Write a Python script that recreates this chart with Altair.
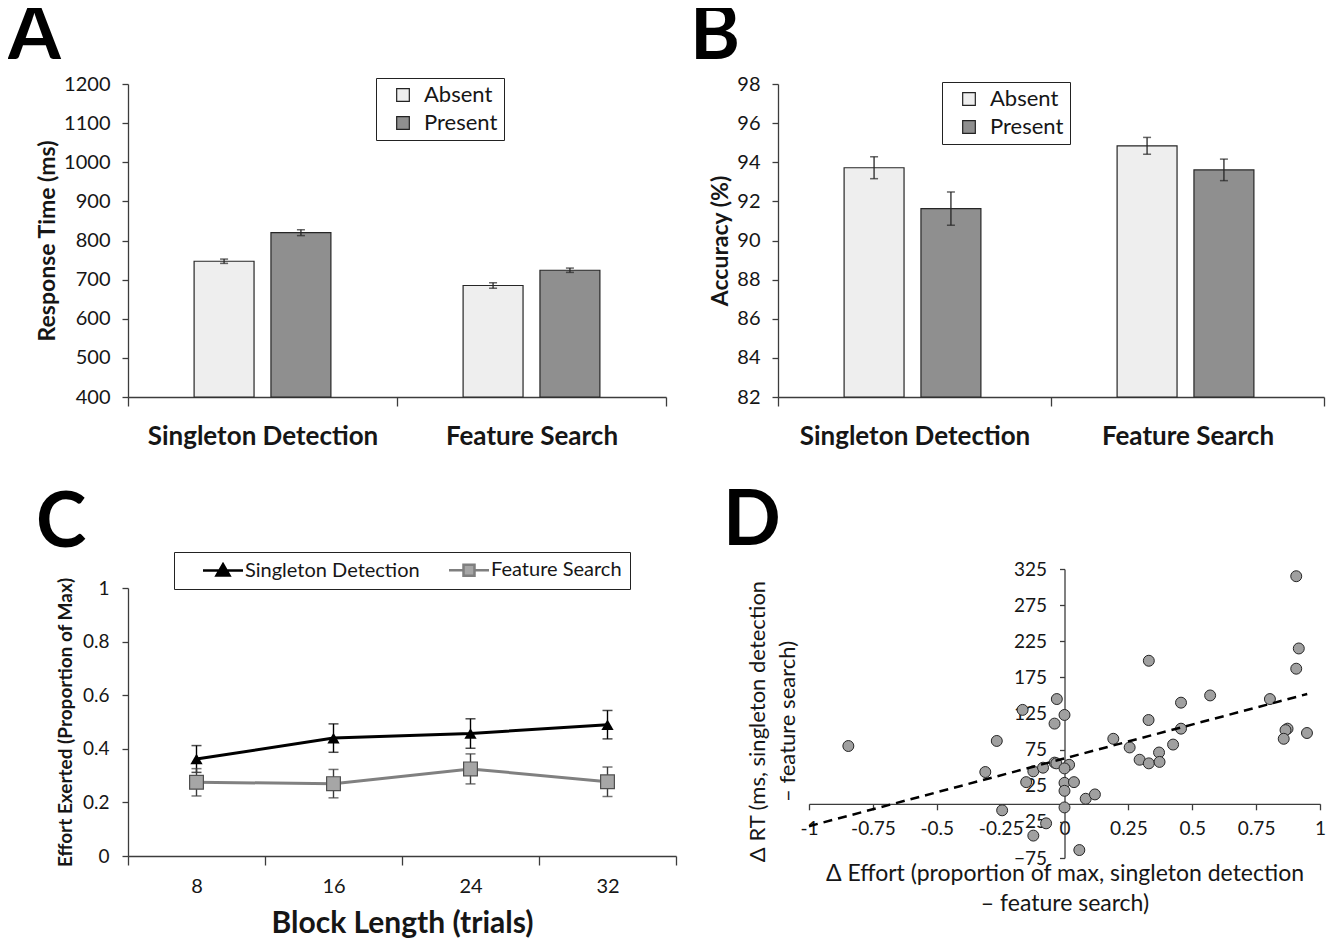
import altair as alt
import pandas as pd

FONT = "Lato"
INK = "#161616"
AX = "#3c3c3c"

# ---------------- Panel A / B data ----------------
tasks = ["Singleton Detection", "Feature Search"]
targets = ["Absent", "Present"]
task_col = ["Singleton Detection", "Singleton Detection", "Feature Search", "Feature Search"]
target_col = ["Absent", "Present", "Absent", "Present"]
rt_mean = [747, 820, 685, 724]
rt_se = [5.5, 7.5, 7.0, 5.5]
acc_mean = [93.72, 91.63, 94.84, 93.61]
acc_se = [0.56, 0.85, 0.43, 0.55]
rt_ticks = [400, 500, 600, 700, 800, 900, 1000, 1100, 1200]
acc_ticks = [82, 84, 86, 88, 90, 92, 94, 96, 98]

# ---------------- Panel C data ----------------
series_names = ["Singleton Detection", "Feature Search"]
block_lengths = ["8", "16", "24", "32"]
sd_effort = [0.362, 0.440, 0.457, 0.490]
sd_se = [0.050, 0.053, 0.055, 0.053]
fs_effort = [0.275, 0.270, 0.325, 0.277]
fs_se = [0.051, 0.053, 0.056, 0.055]
effort_ticks = [0, 0.2, 0.4, 0.6, 0.8, 1]

# ---------------- Panel D data ----------------
d_effort = [-0.846, -0.265, -0.310, -0.244, -0.164, -0.150, -0.122, -0.122, -0.072, -0.084,
            -0.039, -0.032, -0.030, -0.039, 0.000, 0.018, 0.000, 0.000, 0.000, 0.037,
            0.000, 0.058, 0.083, 0.119, 0.191, 0.255, 0.294, 0.330, 0.329, 0.330,
            0.370, 0.372, 0.425, 0.456, 0.456, 0.570, 0.804, 0.907, 0.917, 0.907,
            0.873, 0.865, 0.858, 0.949]
d_rt = [80, 87, 44, -9, 130, 30, 45, -44, -27, 50,
        57, 56, 145, 111, 123, 54, 49, 29, 18, 30,
        -5, -64, 7, 13, 90, 78, 61, 198, 116, 56,
        71, 58, 82, 140, 104, 150, 145, 315, 215, 187,
        104, 102, 90, 98]
trend_x = [-1.0, 0.95]
trend_y = [-31, 152]
d_x_ticks = [-1, -0.75, -0.5, -0.25, 0, 0.25, 0.5, 0.75, 1]
d_y_ticks = [-75, -25, 25, 75, 125, 175, 225, 275, 325]


def letter_title(letter, dx, offset):
    return alt.Title(letter, anchor="start", frame="group", dx=dx, offset=offset,
                     fontSize=76, font=FONT, fontWeight="bold", color="black")


def bar_panel(means, ses, ticks, ytitle, letter, width, letter_dx, leg_x, leg_y, title_off):
    df = pd.DataFrame({"task": task_col, "target": target_col, "mean": means, "se": ses})
    base = alt.Chart(df).transform_calculate(lo="datum.mean - datum.se", hi="datum.mean + datum.se")
    x = alt.X("task:N", sort=tasks, title=None,
              scale=alt.Scale(paddingInner=0, paddingOuter=0),
              axis=alt.Axis(labelAngle=0, labelFontSize=26, labelFontWeight="bold", labelPadding=17,
                            labelLimit=0, tickBand="extent", tickSize=9))
    xo = alt.XOffset("target:N", sort=targets, scale=alt.Scale(paddingInner=0.22, paddingOuter=0.86))
    yscale = alt.Scale(domain=[ticks[0], ticks[-1]], nice=False, zero=False)
    yaxis = alt.Axis(values=ticks, tickCount=len(ticks) + 2, format="d", labelOverlap=False,
                     labelFontSize=20, labelPadding=12, tickSize=6, titleFontSize=23,
                     titleFontWeight="bold", titlePadding=4)
    legend = alt.Legend(title=None, orient="none", legendX=leg_x, legendY=leg_y,
                        symbolType="square", symbolSize=160, symbolStrokeColor="#222",
                        symbolStrokeWidth=1.2, symbolOffset=10, labelOffset=10,
                        labelFontSize=22, labelFont=FONT, labelColor=INK, rowPadding=6,
                        padding=6, strokeColor="#222", fillColor="white", labelLimit=0)
    bars = base.mark_bar(stroke="#262626", strokeWidth=1.2).encode(
        x=x, xOffset=xo,
        y=alt.Y("mean:Q", scale=yscale, axis=yaxis, title=ytitle),
        y2=alt.datum(ticks[0]),
        fill=alt.Fill("target:N", sort=targets,
                      scale=alt.Scale(domain=targets, range=["#EEEEEE", "#8F8F8F"]),
                      legend=legend),
    )
    err = base.mark_rule(color="#262626", strokeWidth=1.3).encode(
        x=x, xOffset=xo, y=alt.Y("lo:Q", title=ytitle), y2="hi:Q")
    cap_lo = base.mark_tick(color="#262626", size=8, thickness=1.5).encode(
        x=x, xOffset=xo, y=alt.Y("lo:Q", title=ytitle))
    cap_hi = base.mark_tick(color="#262626", size=8, thickness=1.5).encode(
        x=x, xOffset=xo, y=alt.Y("hi:Q", title=ytitle))
    return alt.layer(bars, err, cap_lo, cap_hi).properties(
        width=width, height=313, title=letter_title(letter, letter_dx, title_off))


panel_a = bar_panel(rt_mean, rt_se, rt_ticks, "Response Time (ms)", "A", 538, -120, 248, -6, -1)
panel_b = bar_panel(acc_mean, acc_se, acc_ticks, "Accuracy (%)", "B", 546, -88, 164, -2, -1)

# ---------------- Panel C ----------------
cdf = pd.DataFrame({
    "block": block_lengths * 2,
    "series": [series_names[0]] * 4 + [series_names[1]] * 4,
    "effort": sd_effort + fs_effort,
    "se": sd_se + fs_se,
})
cbase = alt.Chart(cdf).transform_calculate(lo="datum.effort - datum.se", hi="datum.effort + datum.se")
cx = alt.X("block:O", sort=block_lengths, title="Block Length (trials)",
           scale=alt.Scale(paddingInner=0, paddingOuter=0),
           axis=alt.Axis(labelAngle=0, tickBand="extent", tickSize=9, labelFontSize=20,
                         labelPadding=11, titleFontSize=30, titleFontWeight="bold", titlePadding=12))
ctitle = "Effort Exerted (Proportion of Max)"
cy = alt.Y("effort:Q", title=ctitle, scale=alt.Scale(domain=[0, 1], nice=False),
           axis=alt.Axis(values=effort_ticks, tickCount=10, labelExpr="'' + datum.value",
                         labelOverlap=False, labelFontSize=19, labelPadding=13, tickSize=6,
                         titleFontSize=19, titleFontWeight="bold", titlePadding=7))

layers_c = []
for name, lcol in [(series_names[0], "#000000"), (series_names[1], "#808080")]:
    sub = cbase.transform_filter(alt.datum.series == name)
    layers_c.append(sub.mark_line(color=lcol, strokeWidth=3).encode(x=cx, y=cy))
for name, ecol in [(series_names[0], "#000000"), (series_names[1], "#3a3a3a")]:
    sub = cbase.transform_filter(alt.datum.series == name)
    layers_c.append(sub.mark_rule(color=ecol, strokeWidth=1.4).encode(
        x=cx, y=alt.Y("lo:Q", title=ctitle), y2="hi:Q"))
    layers_c.append(sub.mark_tick(color=ecol, size=10, thickness=1.5).encode(
        x=cx, y=alt.Y("lo:Q", title=ctitle)))
    layers_c.append(sub.mark_tick(color=ecol, size=10, thickness=1.5).encode(
        x=cx, y=alt.Y("hi:Q", title=ctitle)))
layers_c.append(cbase.transform_filter(alt.datum.series == series_names[0]).mark_point(
    shape="triangle-up", filled=True, color="#000000", size=150, opacity=1).encode(x=cx, y=cy))
layers_c.append(cbase.transform_filter(alt.datum.series == series_names[1]).mark_point(
    shape="square", filled=True, fill="#A6A6A6", stroke="#505050", strokeWidth=1.2,
    size=190, opacity=1).encode(x=cx, y=cy))

PATH_SD = "M-4,0H4M0,-1.25L1.3,1H-1.3Z"
PATH_FS = "M-4,0H-1.1M1.1,0H4M-1.1,-1.1H1.1V1.1H-1.1Z"
leg_c = alt.Legend(title=None, orient="none", direction="horizontal", legendX=46, legendY=-36,
                   symbolSize=100, symbolStrokeWidth=2.5, symbolOffset=31, labelOffset=12,
                   labelFontSize=20, labelFont=FONT, labelColor=INK, columnPadding=8,
                   labelLimit=0, padding=8, strokeColor="#222", fillColor="white",
                   labelExpr="datum.label == 'Feature Search' ? datum.label + '\u2003\u2002' : datum.label")
legend_layer = alt.Chart(pd.DataFrame({"series": series_names})).transform_filter("false").mark_point(
    filled=True, opacity=1).encode(
    shape=alt.Shape("series:N", scale=alt.Scale(domain=series_names, range=[PATH_SD, PATH_FS]), legend=leg_c),
    fill=alt.Fill("series:N", scale=alt.Scale(domain=series_names, range=["#000000", "#A6A6A6"]), legend=leg_c),
    stroke=alt.Stroke("series:N", scale=alt.Scale(domain=series_names, range=["#000000", "#7F7F7F"]), legend=leg_c),
)
layers_c.append(legend_layer)
panel_c = alt.layer(*layers_c).properties(width=548, height=268, title=letter_title("C", -92, -11))

# ---------------- Panel D ----------------
ddf = pd.DataFrame({"effort": d_effort, "rt": d_rt})
tdf = pd.DataFrame({"effort": trend_x, "rt": trend_y})
dxs = alt.Scale(domain=[-1, 1], range=[31, 542], nice=False, zero=False)
dys = alt.Scale(domain=[-75, 325], nice=False, zero=False)
dxaxis = alt.Axis(values=d_x_ticks, tickCount=20, labelExpr="'' + datum.value", labelOverlap=False,
                  offset=-54.2, tickSize=6, labelFontSize=19, labelPadding=10, labelFlush=False,
                  titleX=286.5, titleY=59, titleBaseline="top", titleAlign="center",
                  titleFontSize=23, titleFontWeight="normal", titleLineHeight=30)
dyaxis = alt.Axis(values=d_y_ticks, tickCount=20, labelOverlap=False, offset=-286.5, tickSize=5,
                  labelFontSize=19, labelPadding=13, titleX=-317, titleY=152, titleAngle=-90,
                  titleBaseline="top", titleAlign="center", titleFontSize=22,
                  titleFontWeight="normal", titleLineHeight=29.5)
xtitle_d = ["\u0394 Effort (proportion of max, singleton detection", "\u2013 feature search)"]
ytitle_d = ["\u0394 RT (ms, singleton detection", "\u2013 feature search)"]
pts = alt.Chart(ddf).mark_circle(size=120, fill="#A0A0A0", stroke="#262626", strokeWidth=1, opacity=1).encode(
    x=alt.X("effort:Q", scale=dxs, axis=dxaxis, title=xtitle_d),
    y=alt.Y("rt:Q", scale=dys, axis=dyaxis, title=ytitle_d),
)
trend = alt.Chart(tdf).mark_line(color="#000000", strokeWidth=2.5, strokeDash=[9, 6]).encode(
    x=alt.X("effort:Q", title=xtitle_d), y=alt.Y("rt:Q", title=ytitle_d))
panel_d = alt.layer(pts, trend).properties(width=546, height=289, title=letter_title("D", -55, -1))

indep = dict(fill="independent", stroke="independent", shape="independent", color="independent")
left = alt.vconcat(panel_a, panel_c, spacing=36).resolve_scale(**indep).resolve_legend(**indep)
right = alt.vconcat(panel_b, panel_d, spacing=35).resolve_scale(**indep).resolve_legend(**indep)
chart = alt.hconcat(left, right, spacing=13).resolve_scale(**indep).resolve_legend(**indep)
chart = chart.properties(padding={"left": 0, "top": -10, "right": 0, "bottom": 0}).configure_view(
    stroke=None).configure_axis(
    domainColor=AX, tickColor=AX, domainWidth=1.3, tickWidth=1.3, labelColor=INK, titleColor=INK,
    labelFont=FONT, titleFont=FONT, grid=False).configure_title(font=FONT)

chart.save("out.html", embed_options={"renderer": "svg", "actions": False})
